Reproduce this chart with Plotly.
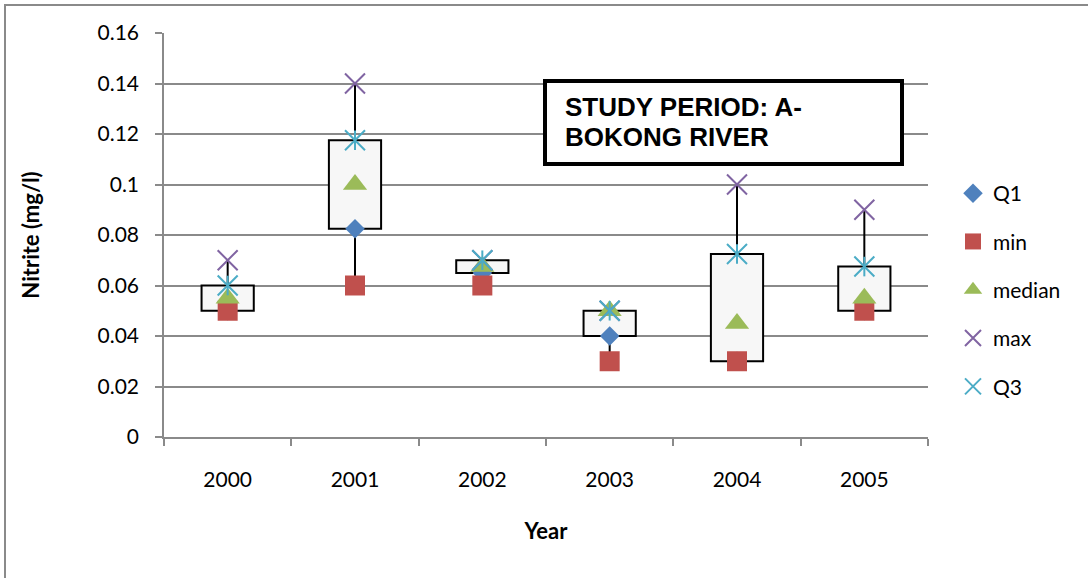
import plotly.graph_objects as go

# Nitrite box summary per year (mg/l)
years = ["2000", "2001", "2002", "2003", "2004", "2005"]
q1_vals = [0.05, 0.0825, 0.065, 0.04, 0.03, 0.05]
min_vals = [0.05, 0.06, 0.06, 0.03, 0.03, 0.05]
median_vals = [0.055, 0.10, 0.0675, 0.05, 0.045, 0.055]
max_vals = [0.07, 0.14, 0.07, 0.05, 0.10, 0.09]
q3_vals = [0.06, 0.1175, 0.07, 0.05, 0.0725, 0.0675]
y_ticks = [0, 0.02, 0.04, 0.06, 0.08, 0.10, 0.12, 0.14, 0.16]

C_Q1 = "#4F81BD"
C_MIN = "#C0504D"
C_MED = "#9BBB59"
C_MAX = "#8064A2"
C_Q3 = "#4BACC6"
GRID = "#8a8a8a"
FAMILY = "Lato, Open Sans, sans-serif"
TICK_FONT = dict(family=FAMILY, size=21, color="#000000")
AXIS_TITLE_FONT = dict(family=FAMILY, size=22, color="#000000")

fig = go.Figure()

# Boxes from Q1 to Q3
fig.add_trace(go.Bar(
    x=years, y=[b - a for a, b in zip(q1_vals, q3_vals)], base=q1_vals,
    width=0.41, marker=dict(color="#f7f7f7", line=dict(color="#000000", width=2)),
    showlegend=False, hoverinfo="skip",
))

# Whiskers: min -> Q1 and Q3 -> max
wx, wy = [], []
for yr, lo, a, b, hi in zip(years, min_vals, q1_vals, q3_vals, max_vals):
    wx += [yr, yr, None, yr, yr, None]
    wy += [lo, a, None, b, hi, None]
fig.add_trace(go.Scatter(
    x=wx, y=wy, mode="lines", line=dict(color="#000000", width=2),
    showlegend=False, hoverinfo="skip",
))

fig.add_trace(go.Scatter(
    x=years, y=q1_vals, mode="markers", name="Q1", legendgroup="g1",
    marker=dict(symbol="diamond", size=15, color=C_Q1),
))
fig.add_trace(go.Scatter(
    x=years, y=min_vals, mode="markers", name="min", legendgroup="g2",
    marker=dict(symbol="square", size=20, color=C_MIN),
))
fig.add_trace(go.Scatter(
    x=years, y=median_vals, mode="markers", name="median", legendgroup="g3",
    marker=dict(symbol="triangle-up", size=21, color=C_MED),
))
fig.add_trace(go.Scatter(
    x=years, y=max_vals, mode="markers", name="max", legendgroup="g4",
    marker=dict(symbol="x-thin-open", size=20, color=C_MAX, line=dict(width=2, color=C_MAX)),
))
# Q3 star: legend entry plus an X and a vertical bar drawn at each point
fig.add_trace(go.Scatter(
    x=years, y=q3_vals, mode="markers", name="Q3", legendgroup="g5",
    marker=dict(symbol="x-thin-open", size=20, color=C_Q3, line=dict(width=2, color=C_Q3)),
))
fig.add_trace(go.Scatter(
    x=years, y=q3_vals, mode="markers", showlegend=False, legendgroup="g5",
    marker=dict(symbol="line-ns-open", size=14, color=C_Q3, line=dict(width=2, color=C_Q3)),
))

L, R, T, B = 164, 160, 33, 141
W, H = 1088, 578
pw, ph = W - L - R, H - T - B


def px_x(p):
    return (p - L) / pw


def px_y(p):
    return (H - B - p) / ph


shapes = [
    # outer chart frame
    dict(type="rect", xref="paper", yref="paper",
         x0=px_x(5), x1=px_x(W + 10), y0=px_y(H + 10), y1=px_y(5),
         line=dict(color="#8a8a8a", width=2), fillcolor="rgba(0,0,0,0)", layer="below"),
    # title text box
    dict(type="rect", xref="paper", yref="paper",
         x0=px_x(545), x1=px_x(902), y0=px_y(164), y1=px_y(81),
         line=dict(color="#000000", width=4), fillcolor="#ffffff", layer="above"),
]

title_font = dict(family="Liberation Sans, Arial, sans-serif", size=26, color="#000000")
annotations = [
    dict(text="<b>STUDY PERIOD: A-</b>", xref="paper", yref="paper",
         x=px_x(563), y=px_y(107), xanchor="left", yanchor="middle",
         showarrow=False, font=title_font),
    dict(text="<b>BOKONG RIVER</b>", xref="paper", yref="paper",
         x=px_x(563), y=px_y(137), xanchor="left", yanchor="middle",
         showarrow=False, font=title_font),
]

fig.update_layout(
    width=W, height=H,
    margin=dict(l=L, r=R, t=T, b=B, pad=0),
    paper_bgcolor="#ffffff", plot_bgcolor="#ffffff",
    shapes=shapes, annotations=annotations,
    showlegend=True,
    legend=dict(
        x=px_x(953), y=px_y(173), xanchor="left", yanchor="top",
        font=TICK_FONT, traceorder="grouped", tracegroupgap=18,
        bgcolor="rgba(0,0,0,0)", itemwidth=30,
    ),
    xaxis=dict(
        type="category", showgrid=False, showline=True, linecolor=GRID, linewidth=1.5,
        ticks="outside", tickson="boundaries", ticklen=7, tickcolor=GRID, tickwidth=1.5,
        tickfont=TICK_FONT, ticklabelstandoff=23,
        title=dict(text="<b>Year</b>", font=AXIS_TITLE_FONT, standoff=34),
        range=[-0.5, 5.5],
    ),
    yaxis=dict(
        range=[0, 0.16], tickvals=y_ticks, showgrid=True, gridcolor=GRID, gridwidth=1.5,
        zeroline=False, showline=True, linecolor=GRID, linewidth=1.5,
        ticks="outside", ticklen=7, tickcolor=GRID, tickwidth=1.5,
        tickfont=TICK_FONT, ticklabelstandoff=12,
        title=dict(text="<b>Nitrite (mg/l)</b>", font=AXIS_TITLE_FONT, standoff=52),
    ),
    bargap=0.59,
)

fig.write_html("out.html")
